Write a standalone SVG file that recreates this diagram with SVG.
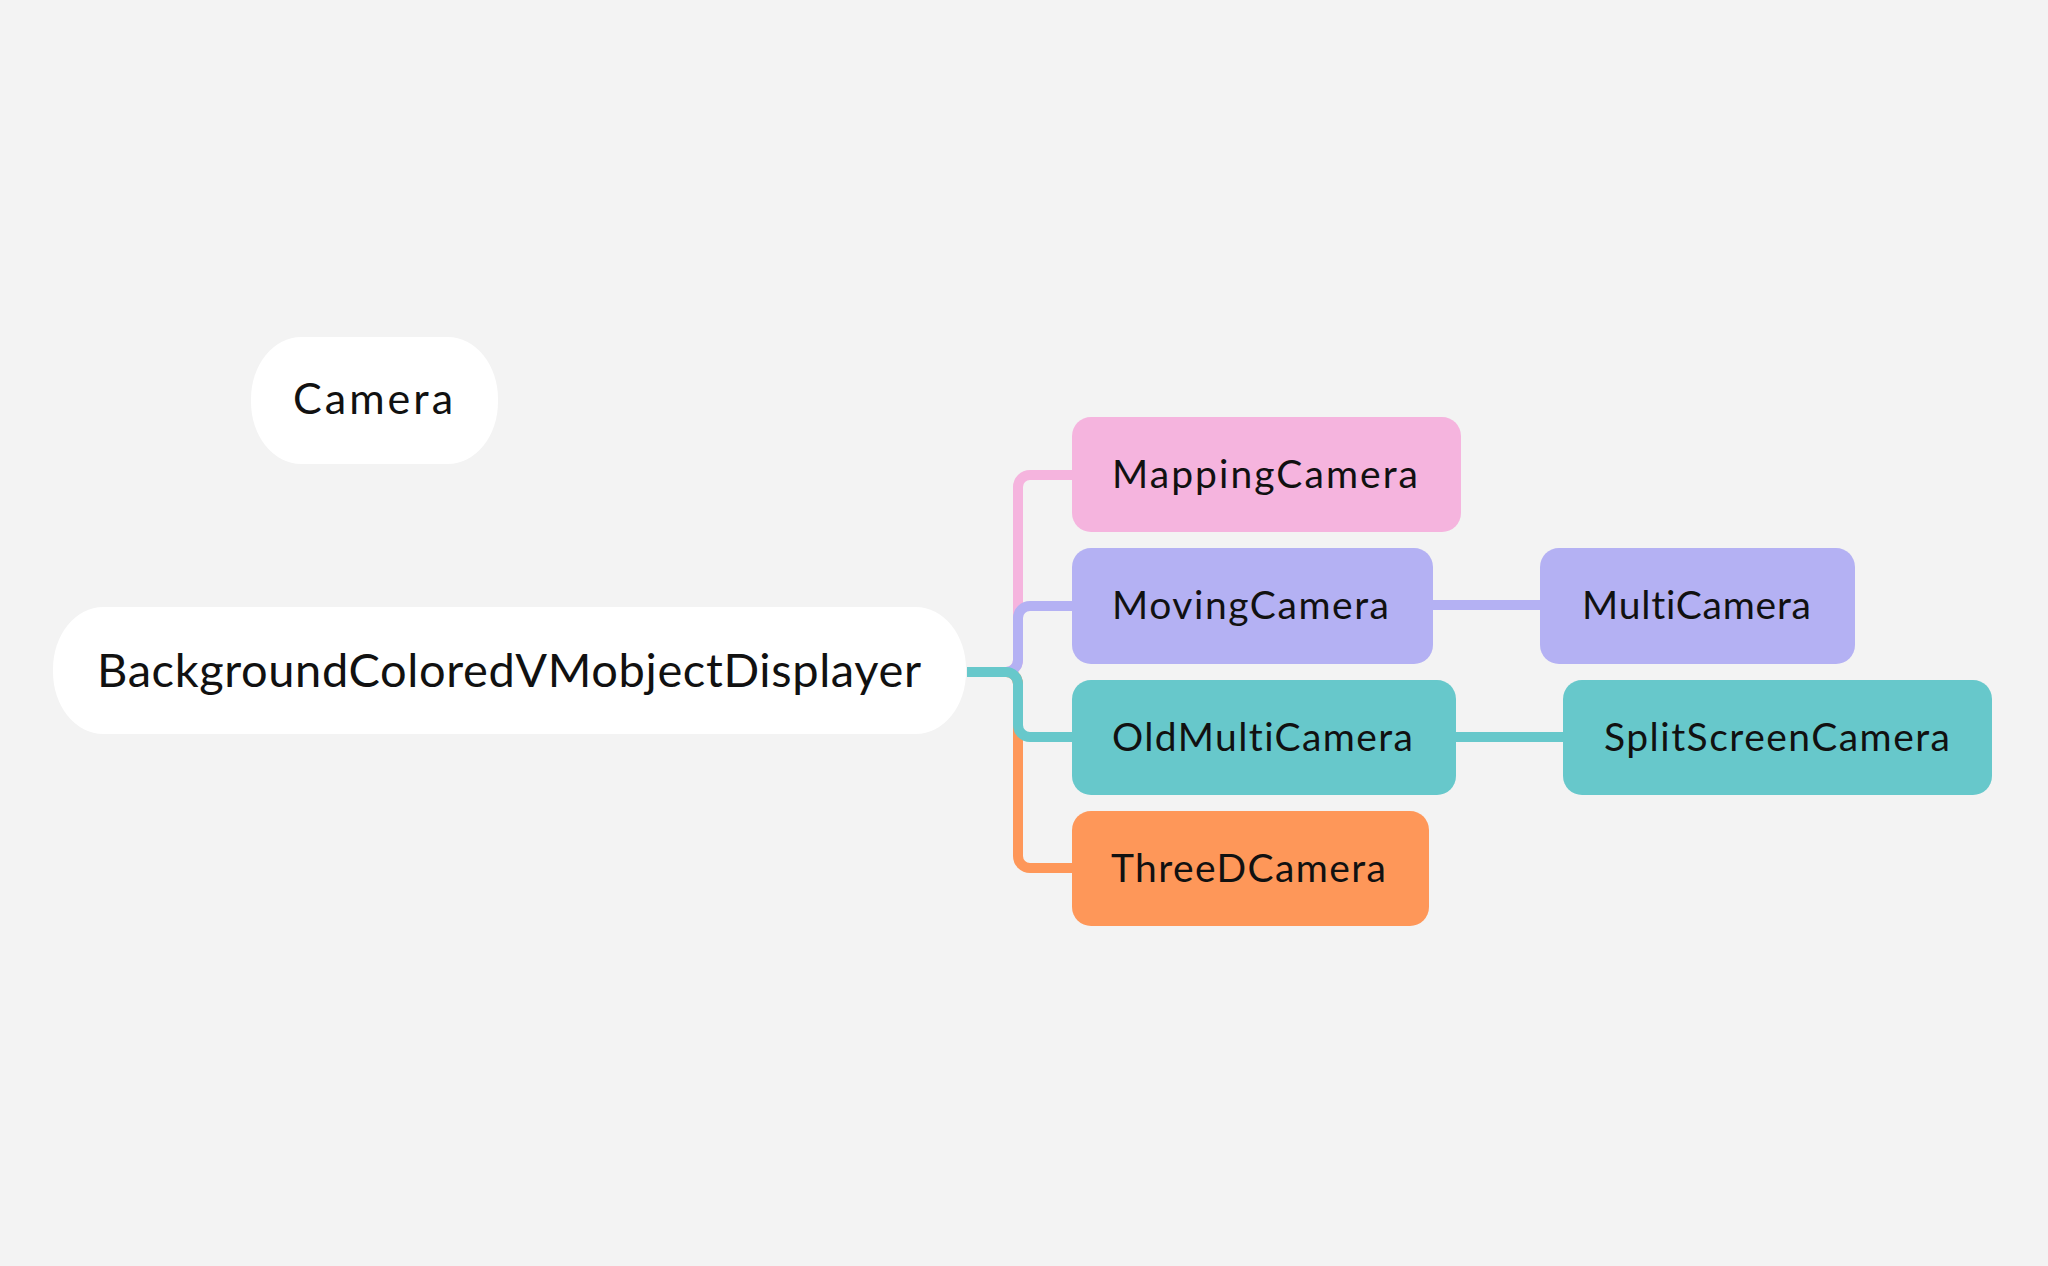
<svg xmlns="http://www.w3.org/2000/svg" width="2048" height="1266" viewBox="0 0 2048 1266">
<style>
.t{font-family:Lato,"Liberation Sans",sans-serif;fill:#111;font-variant-ligatures:none;font-feature-settings:"liga" 0;}
.c{fill:none;stroke-width:10;stroke-linejoin:round;}
</style>
<rect width="2048" height="1266" fill="#F3F3F3"/>
<g id="connectors">
<path class="c" stroke="#F5B4DE" d="M967 672 H1006 A12 12 0 0 0 1018 660 V487 A12 12 0 0 1 1030 475 H1074"/>
<path class="c" stroke="#FE9759" d="M967 672 H1006 A12 12 0 0 1 1018 684 V856 A12 12 0 0 0 1030 868 H1074"/>
<path class="c" stroke="#B4B1F3" d="M967 672 H1006 A12 12 0 0 0 1018 660 V618 A12 12 0 0 1 1030 606 H1074"/>
<path class="c" stroke="#67C8CB" d="M967 672 H1006 A12 12 0 0 1 1018 684 V725 A12 12 0 0 0 1030 737 H1074"/>
<path class="c" stroke="#B4B1F3" d="M1430 605 H1542"/>
<path class="c" stroke="#67C8CB" d="M1454 737 H1565"/>
</g>
<g id="camera">
<rect x="251" y="337" width="247" height="127" rx="50" ry="62" fill="#FFFFFF"/>
<text class="t" x="293" y="414" font-size="43" textLength="160">Camera</text>
</g>
<g id="root">
<rect x="53" y="607" width="913" height="127" rx="50" ry="62" fill="#FFFFFF"/>
<text class="t" x="97" y="687" font-size="47" textLength="824">BackgroundColoredVMobjectDisplayer</text>
</g>
<g id="mapping">
<rect x="1072" y="417" width="389" height="115" rx="19" fill="#F5B4DE"/>
<text class="t" x="1112" y="488" font-size="39" textLength="306">MappingCamera</text>
</g>
<g id="moving">
<rect x="1072" y="548" width="361" height="116" rx="19" fill="#B4B1F3"/>
<text class="t" x="1112" y="619" font-size="39" textLength="277">MovingCamera</text>
</g>
<g id="oldmulti">
<rect x="1072" y="680" width="384" height="115" rx="19" fill="#67C8CB"/>
<text class="t" x="1112" y="751" font-size="39" textLength="301">OldMultiCamera</text>
</g>
<g id="threed">
<rect x="1072" y="811" width="357" height="115" rx="19" fill="#FE9759"/>
<text class="t" x="1111" y="882" font-size="39" textLength="275">ThreeDCamera</text>
</g>
<g id="multi">
<rect x="1540" y="548" width="315" height="116" rx="19" fill="#B4B1F3"/>
<text class="t" x="1582" y="619" font-size="39" textLength="229">MultiCamera</text>
</g>
<g id="splitscreen">
<rect x="1563" y="680" width="429" height="115" rx="19" fill="#67C8CB"/>
<text class="t" x="1604" y="751" font-size="39" textLength="346">SplitScreenCamera</text>
</g>
</svg>
